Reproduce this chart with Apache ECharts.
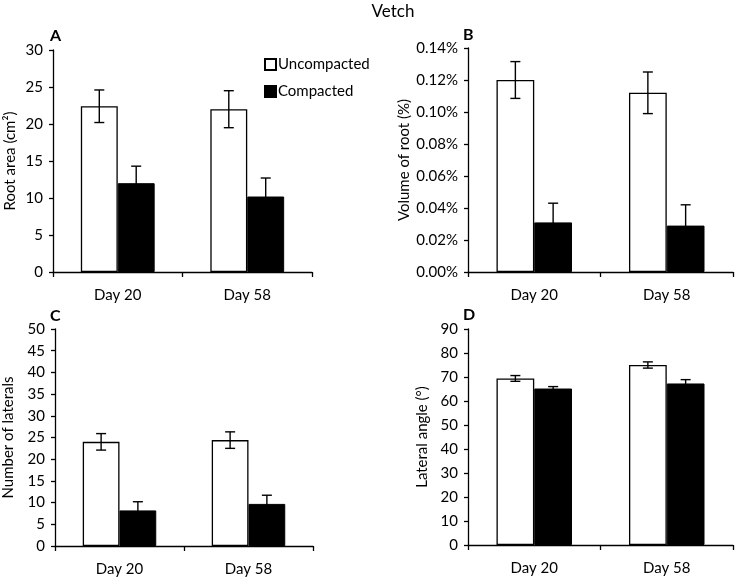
<!DOCTYPE html>
<html><head><meta charset="utf-8">
<script src="https://cdn.jsdelivr.net/npm/echarts@6/dist/echarts.min.js"></script>
<style>html,body{margin:0;padding:0;background:#fff}#c{width:737px;height:578px}</style>
</head><body><div id="c"></div>
<script>
const categories = ['Day 20', 'Day 58'];
const seriesNames = ['Uncompacted', 'Compacted'];
// A: root area (cm²)
const areaUnc = [22.4, 22.0], areaUncErr = [2.2, 2.5];
const areaComp = [12.0, 10.2], areaCompErr = [2.3, 2.5];
// B: volume of root (%)
const volUnc = [0.120, 0.112], volUncErr = [0.0115, 0.013];
const volComp = [0.031, 0.029], volCompErr = [0.012, 0.013];
// C: number of laterals
const latUnc = [24.0, 24.4], latUncErr = [1.9, 1.9];
const latComp = [8.2, 9.7], latCompErr = [2.0, 2.0];
// D: lateral angle (°)
const angUnc = [69.4, 75.0], angUncErr = [1.2, 1.3];
const angComp = [65.2, 67.3], angCompErr = [0.8, 1.6];

const FONT = 'Lato';
const FS = 15;
const CAT_GAP = 0.43;

const panels = [
  {unc: areaUnc, uncE: areaUncErr, comp: areaComp, compE: areaCompErr, max: 30, interval: 5, name: 'Root area (cm²)', gap: 35,
   grid: {left: 53, top: 50, width: 259, height: 222}, fmt: v => v},
  {unc: volUnc, uncE: volUncErr, comp: volComp, compE: volCompErr, max: 0.14, interval: 0.02, name: 'Volume of root (%)', gap: 56,
   grid: {left: 468, top: 48, width: 265, height: 224}, fmt: v => v.toFixed(2) + '%'},
  {unc: latUnc, uncE: latUncErr, comp: latComp, compE: latCompErr, max: 50, interval: 5, name: 'Number of laterals', gap: 39,
   grid: {left: 54, top: 329, width: 259, height: 217}, fmt: v => v},
  {unc: angUnc, uncE: angUncErr, comp: angComp, compE: angCompErr, max: 90, interval: 10, name: 'Lateral angle (°)', gap: 38,
   grid: {left: 468, top: 329, width: 265, height: 216}, fmt: v => v}
];

const axisLine = {show: true, lineStyle: {color: '#000', width: 1.3}};
const grids = [], xAxes = [], yAxes = [], series = [];

function errRender(params, api) {
  const idx = api.value(0), v = api.value(1), e = api.value(2), side = api.value(3);
  const band = api.size([1, 0])[0];
  const bw = band * (1 - CAT_GAP) / 2;
  const c = api.coord([idx, v]);
  const cx = c[0] + side * bw / 2;
  const yt = api.coord([idx, v + e])[1];
  const yb = api.coord([idx, v - e])[1];
  const cap = 5;
  const st = {stroke: '#000', lineWidth: 1.4};
  return {type: 'group', children: [
    {type: 'line', shape: {x1: cx, y1: yt, x2: cx, y2: yb}, style: st},
    {type: 'line', shape: {x1: cx - cap, y1: yt, x2: cx + cap, y2: yt}, style: st},
    {type: 'line', shape: {x1: cx - cap, y1: yb, x2: cx + cap, y2: yb}, style: st}
  ]};
}

panels.forEach((p, i) => {
  grids.push(Object.assign({}, p.grid));
  xAxes.push({type: 'category', gridIndex: i, data: categories,
    axisLine: axisLine, axisTick: {show: true, length: 5, lineStyle: {color: '#000', width: 1.3}},
    axisLabel: {color: '#000', fontSize: FS, fontFamily: FONT, margin: 16}});
  yAxes.push({type: 'value', gridIndex: i, min: 0, max: p.max, interval: p.interval,
    name: p.name, nameLocation: 'middle', nameGap: p.gap, nameRotate: 90,
    nameTextStyle: {color: '#000', fontSize: FS, fontFamily: FONT},
    axisLine: axisLine, axisTick: {show: true, length: 4, lineStyle: {color: '#000', width: 1.3}},
    splitLine: {show: false},
    axisLabel: {color: '#000', fontSize: FS, fontFamily: FONT, margin: 10, formatter: p.fmt}});
  series.push({type: 'bar', name: seriesNames[0], xAxisIndex: i, yAxisIndex: i, data: p.unc,
    barGap: '0%', barCategoryGap: (CAT_GAP * 100) + '%',
    itemStyle: {color: '#fff', borderColor: '#000', borderWidth: 1.3}, emphasis: {disabled: true}});
  series.push({type: 'bar', name: seriesNames[1], xAxisIndex: i, yAxisIndex: i, data: p.comp,
    barGap: '0%', barCategoryGap: (CAT_GAP * 100) + '%',
    itemStyle: {color: '#000', borderColor: '#000', borderWidth: 1}, emphasis: {disabled: true}});
  const ed = [];
  p.unc.forEach((v, k) => ed.push([k, v, p.uncE[k], -1]));
  p.comp.forEach((v, k) => ed.push([k, v, p.compE[k], 1]));
  series.push({type: 'custom', xAxisIndex: i, yAxisIndex: i, data: ed, renderItem: errRender, z: 5, silent: true});
});

const letters = [['A', 50, 37], ['B', 463, 36], ['C', 50, 317], ['D', 463, 316]];
const graphic = letters.map(l => ({type: 'text', left: l[1], top: l[2] - 9,
  style: {text: l[0], font: 'bold 16px ' + FONT, fill: '#000'}}));
graphic.push({type: 'text', x: 393, y: 12, style: {text: 'Vetch', font: '17px ' + FONT, fill: '#000', textAlign: 'center', textVerticalAlign: 'middle'}});

const chart = echarts.init(document.getElementById('c'), null, {renderer: 'canvas'});
chart.setOption({
  animation: false,
  backgroundColor: '#fff',
  grid: grids, xAxis: xAxes, yAxis: yAxes, series: series, graphic: graphic,
  legend: {data: seriesNames.map(n => ({name: n, icon: 'rect'})), orient: 'vertical', left: 259, top: 52, itemWidth: 11, itemHeight: 11, itemGap: 12,
    selectedMode: false, textStyle: {color: '#000', fontSize: FS, fontFamily: FONT, padding: [0, 0, 0, -3]}}
});
</script></body></html>
